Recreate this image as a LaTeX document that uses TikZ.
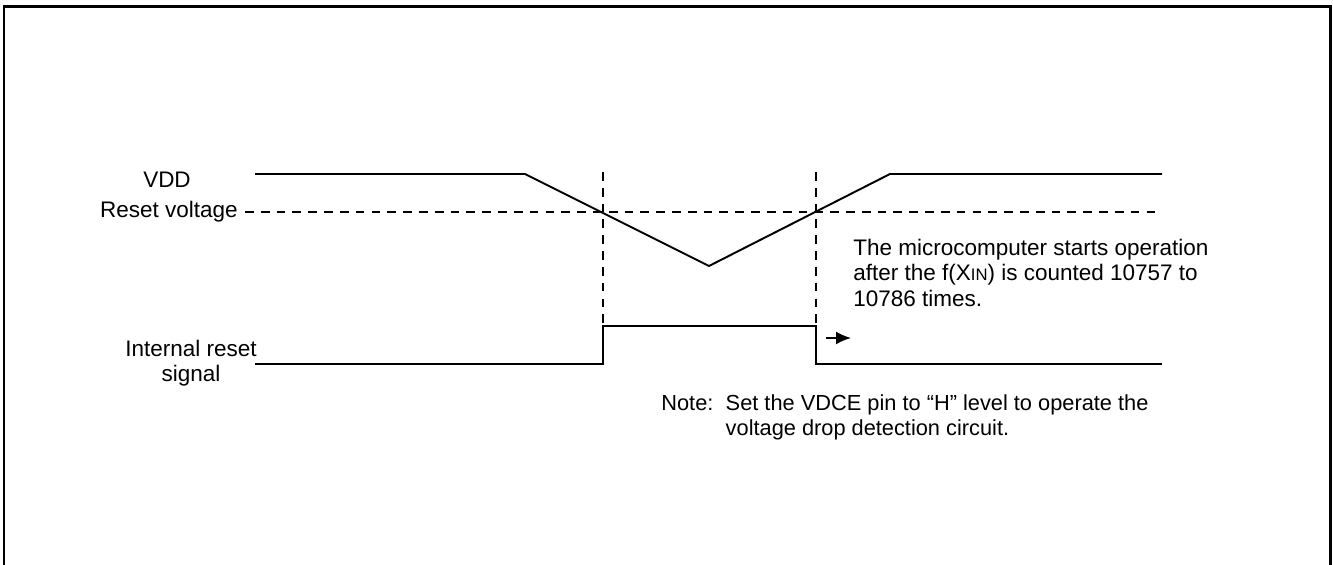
\documentclass[tikz,border=0pt]{standalone}
\usepackage{fontspec}
\setmainfont{Liberation Sans}
\usetikzlibrary{arrows.meta}

\begin{document}
\begin{tikzpicture}[>=Latex,
    wave/.style={line width=1.1pt},
    guide/.style={line width=1pt,dash pattern=on 5pt off 4pt},
    lbl/.style={font=\fontsize{12.8}{14.4}\selectfont,inner sep=0pt}]
    \useasboundingbox (0,0) rectangle (26.66,11.3);
    % frame, open at the bottom
    \draw[line width=1.7pt] (0.08,0) -- (0.08,11.16) -- (26.6,11.16) -- (26.6,0);
    % VDD and reset level
    \draw[wave] (5.1,7.82) -- (10.5,7.82) -- (14.18,5.98) -- (17.8,7.82) -- (23.24,7.82);
    \draw[guide] (4.9,7.06) -- (23.24,7.06);
    \node[lbl] (vdd) at (3.34,7.7) {VDD};
    \node[lbl,anchor=east] (vreset) at (4.76,7.06) {Reset voltage};
    % detection instants
    \draw[guide] (12.06,7.86) -- (12.06,4.78);
    \draw[guide] (16.32,7.86) -- (16.32,4.78);
    % internal reset signal
    \draw[wave] (5.1,4.02) -- (12.06,4.02) -- (12.06,4.78) -- (16.32,4.78) -- (16.32,4.02) -- (23.24,4.02);
    \draw[line width=1.1pt,-{Latex[length=3mm,width=2.6mm]}] (16.52,4.54) -- (17.02,4.54);
    \node[lbl,align=center] (rst) at (3.82,4.04) {Internal reset\\signal};
    % notes
    \node[lbl,align=left,anchor=north west] (start) at (17.06,6.52)
      {The microcomputer starts operation\\after the f(X{\fontsize{9.5}{10}\selectfont IN}) is counted 10757 to\\10786 times.};
    \node[lbl,font=\fontsize{12.4}{14.4}\selectfont,anchor=north west] (note) at (13.22,3.46)
      {\begin{tabular}{@{}l@{\hspace{7pt}}l@{}}Note:&Set the VDCE pin to “H” level to operate the\\&voltage drop detection circuit.\end{tabular}};
\end{tikzpicture}
\end{document}
